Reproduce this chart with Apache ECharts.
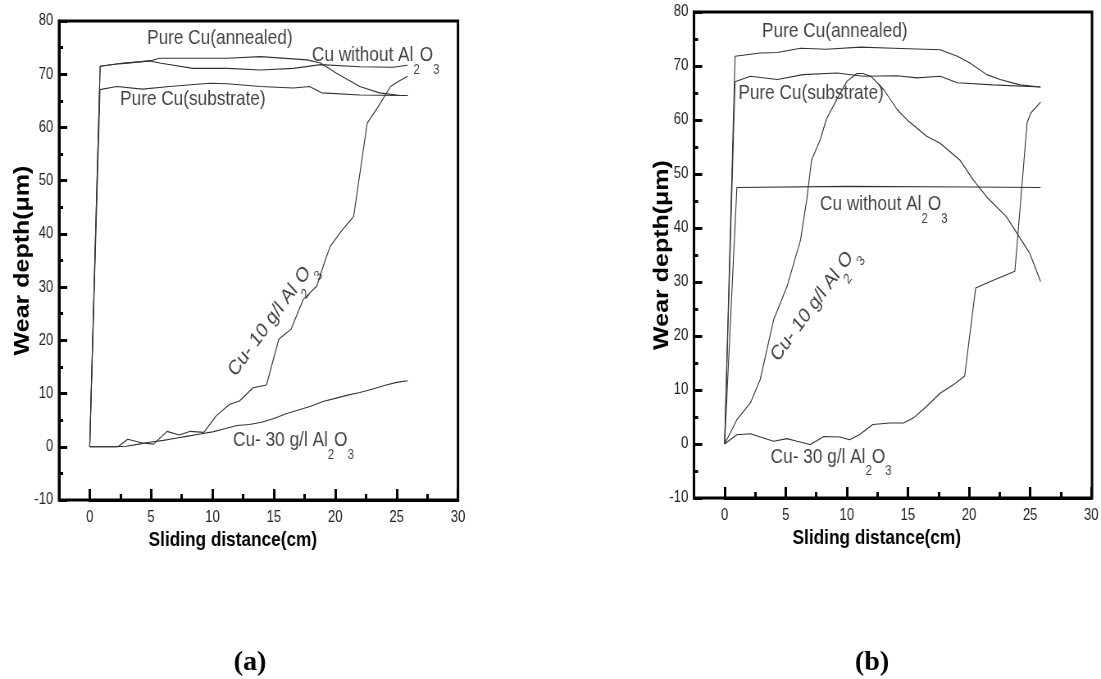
<!DOCTYPE html>
<html><head><meta charset="utf-8">
<script src="https://cdn.jsdelivr.net/npm/echarts@6/dist/echarts.min.js"></script>
<style>html,body{margin:0;padding:0;background:#fff;overflow:hidden;width:1101px;height:679px}
#c{width:1343px;height:679px;transform:scaleX(0.8198);transform-origin:0 0}</style>
</head><body><div id="c"></div><script>
// ---------- Panel (a) data ----------
const aAnnealedX = [0, 0.85, 2.5, 4.9, 5.7, 8, 11.2, 13.9, 17.7, 18.8, 20.1, 22.0, 23.6, 25.3, 25.9];
const aAnnealedY = [0, 71.5, 72.0, 72.5, 73.0, 73.0, 73.0, 73.3, 72.7, 72.1, 70.2, 67.7, 66.5, 66.0, 66.0];
const aWithoutX = [0, 0.85, 2.5, 4.9, 5.7, 8.4, 11.2, 13.9, 16.6, 18.8, 22.0, 24.7, 25.9];
const aWithoutY = [0, 71.5, 72.0, 72.5, 72.1, 71.1, 71.1, 70.8, 71.1, 71.8, 71.4, 71.3, 71.7];
const aSubstrateX = [0, 0.84, 2.2, 4.3, 6.5, 9.8, 11.2, 13.9, 16.6, 17.9, 18.9, 22.0, 25.3, 25.9];
const aSubstrateY = [0, 67.1, 67.7, 67.2, 67.7, 68.3, 68.2, 67.7, 67.4, 67.7, 66.5, 66.1, 66.0, 66.0];
const aCu10X = [0, 2.3, 3.1, 4.3, 5.2, 6.3, 7.3, 8.2, 9.3, 10.3, 11.4, 12.2, 13.3, 14.4, 15.4, 16.4, 17.4, 18.5, 19.2, 19.6, 20.5, 21.5, 22.6, 23.5, 24.5, 25.1, 25.9];
const aCu10Y = [0, 0, 1.4, 0.7, 0.5, 2.9, 2.2, 2.9, 2.7, 5.8, 8.0, 8.6, 11.1, 11.6, 20.2, 22.1, 27.7, 30.2, 35.2, 37.7, 40.5, 43.3, 60.8, 63.9, 67.7, 68.6, 69.6];
const aCu30X = [0, 1, 2, 3, 4, 5, 6, 7, 8, 9, 10, 11, 12, 13, 14, 15, 16, 17, 18, 19, 20, 21, 22, 23, 24, 25, 25.9];
const aCu30Y = [0, 0, 0, 0.1, 0.5, 0.9, 1.2, 1.6, 2.0, 2.4, 2.8, 3.4, 4.0, 4.2, 4.6, 5.3, 6.2, 6.9, 7.6, 8.5, 9.1, 9.7, 10.2, 10.8, 11.5, 12.1, 12.4];

// ---------- Panel (b) data ----------
const bAnnealedX = [0, 0.85, 2.9, 4.3, 6.2, 8.3, 11.1, 13.8, 17.6, 19.0, 20.0, 21.4, 22.5, 24.1, 25.8];
const bAnnealedY = [0, 71.8, 72.4, 72.5, 73.3, 73.1, 73.5, 73.3, 73.0, 71.8, 70.6, 68.4, 67.5, 66.5, 66.1];
const bSubstrateX = [0, 0.85, 2.1, 4.3, 6.4, 9.2, 11.3, 14.1, 15.7, 17.6, 19.0, 21.9, 25.8];
const bSubstrateY = [0, 67.1, 68.1, 67.5, 68.4, 68.7, 68.1, 68.2, 67.8, 68.1, 66.9, 66.5, 66.1];
const bWithoutX = [0, 1.0, 10, 20, 25.8];
const bWithoutY = [0, 47.5, 47.7, 47.6, 47.5];
const bCu10X = [0, 1.0, 2.1, 2.9, 4.0, 5.1, 6.2, 6.7, 7.1, 7.8, 8.3, 9.2, 10.0, 10.8, 11.3, 12.0, 13.0, 14.1, 15.0, 16.5, 17.6, 19.2, 20.3, 21.5, 23.0, 24.9, 25.8];
const bCu10Y = [0, 4.5, 7.6, 11.9, 23.0, 29.2, 37.8, 45.2, 52.6, 56.3, 60.1, 64.0, 67.2, 68.6, 68.6, 68.0, 65.6, 61.9, 59.8, 57.0, 55.7, 52.6, 48.9, 45.5, 42.1, 35.4, 30.1];
const bCu30X = [0, 1.0, 2.1, 4.0, 5.1, 5.9, 7.0, 8.1, 9.4, 10.2, 11.0, 12.1, 13.5, 14.6, 15.4, 16.5, 17.6, 18.7, 19.6, 20.5, 21.7, 23.7, 24.7, 25.0, 25.8];
const bCu30Y = [0, 1.7, 1.9, 0.5, 1.0, 0.5, -0.1, 1.4, 1.3, 0.8, 1.7, 3.6, 3.9, 3.9, 4.8, 7.0, 9.4, 11.0, 12.6, 28.9, 30.1, 32.0, 59.5, 61.3, 63.3];

// ---------- Axis ticks ----------
const xTickMin = 0, xTickMax = 30, xTickStep = 5;
const yTickMin = -10, yTickMax = 80, yTickStep = 10;
const xViewMin = -2.5;

// ---------- Annotations (text, x, y, rotation) ----------
const aNoteText = ['{n|Pure Cu(annealed)}', '{n|Cu without Al}{s|2}{n|O}{s|3}', '{n|Pure Cu(substrate)}', '{n|Cu- 10 g/l Al}{s|2}{n|O}{s|3}', '{n|Cu- 30 g/l Al}{s|2}{n|O}{s|3}'];
const aNoteX = [10.6, 23.3, 8.4, 14.9, 16.6];
const aNoteY = [76.4, 73.3, 65.0, 23.9, 0.9];
const aNoteRot = [0, 0, 0, 48.5, 0];
const bNoteText = aNoteText.slice();
const bNoteX = [9.0, 13.0, 7.06, 7.4, 8.7];
const bNoteY = [76.2, 44.1, 64.7, 25.8, -2.7];
const bNoteRot = [0, 0, 0, 48.5, 0];

const S = 0.8198;               // horizontal squeeze of the whole figure
const FONT = "'Liberation Sans',Arial,sans-serif";
const LINE = '#333';
const TICK = '#000';

// panel boxes in screen pixels (converted to the unsqueezed canvas space)
const panels = [
  {left: 59, top: 21, width: 399, height: 479},
  {left: 694, top: 12, width: 398, height: 486}
].map(p => ({left: p.left / S, top: p.top, width: p.width / S, height: p.height}));
const span = xTickMax - xViewMin;
const yNameGap = [26 / S, 21 / S];
const xNameShift = [100, 76];

const grids = [], xAxes = [], yAxes = [], series = [];
panels.forEach(p => {
  grids.push({left: p.left, top: p.top, width: p.width, height: p.height, show: true, borderColor: '#000', borderWidth: 3, backgroundColor: 'transparent'});
});
panels.forEach(p => {
  const off = p.width * (xTickMin - xViewMin) / span;
  grids.push({left: p.left + off, top: p.top, width: p.width - off, height: p.height});
});
panels.forEach((p, k) => {
  xAxes.push({gridIndex: k, type: 'value', min: xViewMin, max: xTickMax, show: false});
  yAxes.push({
    gridIndex: k, type: 'value', min: yTickMin, max: yTickMax, interval: yTickStep,
    axisLine: {show: true, onZero: false, lineStyle: {color: '#000', width: 3}},
    axisTick: {show: true, inside: true, length: 10, lineStyle: {color: TICK, width: 3}},
    minorTick: {show: true, splitNumber: 2, length: 5, lineStyle: {color: TICK, width: 3}},
    axisLabel: {margin: 7, fontSize: 16, color: '#222', fontFamily: FONT},
    splitLine: {show: false},
    name: 'Wear depth(\u03bcm)', nameLocation: 'middle', nameGap: yNameGap[k], nameMoveOverlap: false,
    nameTextStyle: {fontFamily: FONT, fontWeight: 'bold', fontSize: 25, color: '#000'}
  });
});
panels.forEach((p, k) => {
  xAxes.push({
    gridIndex: k + 2, type: 'value', min: xTickMin, max: xTickMax, interval: xTickStep,
    axisLine: {show: true, onZero: false, lineStyle: {color: '#000', width: 3}},
    axisTick: {show: true, inside: true, length: 11, lineStyle: {color: TICK, width: 3}},
    minorTick: {show: true, splitNumber: 2, length: 6, lineStyle: {color: TICK, width: 3}},
    axisLabel: {margin: 10, fontSize: 16, color: '#222', fontFamily: FONT},
    splitLine: {show: false},
    name: 'Sliding distance(cm)', nameLocation: 'middle', nameGap: 30, nameMoveOverlap: false,
    nameTextStyle: {fontFamily: FONT, fontWeight: 'bold', fontSize: 21, color: '#000', padding: [0, xNameShift[k], 0, 0]}
  });
  yAxes.push({gridIndex: k + 2, type: 'value', min: yTickMin, max: yTickMax, show: false});
});

function pts(xs, ys) { return xs.map((x, i) => [x, ys[i]]); }
function addLine(k, name, xs, ys) {
  series.push({type: 'line', name, xAxisIndex: k, yAxisIndex: k, data: pts(xs, ys), symbol: 'none',
    lineStyle: {color: LINE, width: 1.1}, silent: true, animation: false});
}
addLine(0, 'Pure Cu(annealed)', aAnnealedX, aAnnealedY);
addLine(0, 'Cu without Al2O3', aWithoutX, aWithoutY);
addLine(0, 'Pure Cu(substrate)', aSubstrateX, aSubstrateY);
addLine(0, 'Cu- 10 g/l Al2O3', aCu10X, aCu10Y);
addLine(0, 'Cu- 30 g/l Al2O3', aCu30X, aCu30Y);
addLine(1, 'Pure Cu(annealed)', bAnnealedX, bAnnealedY);
addLine(1, 'Pure Cu(substrate)', bSubstrateX, bSubstrateY);
addLine(1, 'Cu without Al2O3', bWithoutX, bWithoutY);
addLine(1, 'Cu- 10 g/l Al2O3', bCu10X, bCu10Y);
addLine(1, 'Cu- 30 g/l Al2O3', bCu30X, bCu30Y);

const rich = {
  n: {fontFamily: FONT, fontSize: 21, color: '#111', lineHeight: 24, verticalAlign: 'top'},
  s: {fontFamily: FONT, fontSize: 14, color: '#111', lineHeight: 16, padding: [18, 0, 0, 0], verticalAlign: 'top'}
};
function addNotes(k, texts, xs, ys, rots) {
  series.push({
    type: 'scatter', xAxisIndex: k, yAxisIndex: k, symbolSize: 0, silent: true, animation: false,
    data: texts.map((t, i) => ({value: [xs[i], ys[i]], label: {formatter: t, rotate: rots[i]}})),
    label: {show: true, position: 'inside', align: 'center', verticalAlign: 'middle', rich}
  });
}
addNotes(0, aNoteText, aNoteX, aNoteY, aNoteRot);
addNotes(1, bNoteText, bNoteX, bNoteY, bNoteRot);

const capFont = "bold 28px 'Liberation Serif', 'Times New Roman', serif";
const chart = echarts.init(document.getElementById('c'), null, {renderer: 'canvas'});
chart.setOption({
  animation: false,
  backgroundColor: '#fff',
  grid: grids, xAxis: xAxes, yAxis: yAxes, series,
  graphic: [
    {type: 'text', x: 250 / S, y: 663, scaleX: 1 / S, style: {text: '(a)', font: capFont, fill: '#000', align: 'center', verticalAlign: 'middle'}},
    {type: 'text', x: 872 / S, y: 663, scaleX: 1 / S, style: {text: '(b)', font: capFont, fill: '#000', align: 'center', verticalAlign: 'middle'}}
  ]
});
</script></body></html>
